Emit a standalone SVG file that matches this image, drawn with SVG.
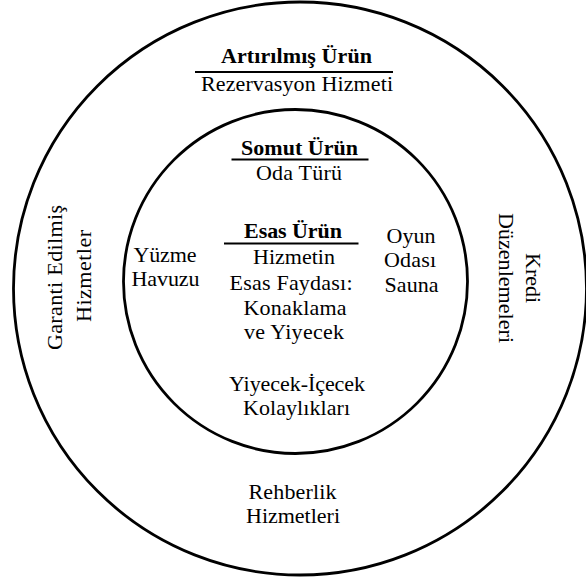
<svg xmlns="http://www.w3.org/2000/svg" width="586" height="582" viewBox="0 0 586 582">
<style>
text{font-family:"Liberation Serif","Times New Roman",serif;font-size:22px;fill:#000;text-anchor:middle}
.b{font-weight:bold}
.ring{fill:none;stroke:#000;stroke-width:2.8}
.ul{stroke:#000;stroke-width:2}
</style>
<rect width="586" height="582" fill="#fff"/>
<g id="outer-ring">
<circle class="ring" cx="300" cy="288.5" r="286.5"/>
<text class="b" x="296.5" y="63" textLength="151">Artırılmış Ürün</text>
<line class="ul" x1="195" y1="72" x2="393" y2="72"/>
<text x="297" y="91" textLength="192">Rezervasyon Hizmeti</text>
<text transform="translate(62,277.5) rotate(-90)" textLength="145">Garanti Edilmiş</text>
<text transform="translate(91,276) rotate(-90)" textLength="92">Hizmetler</text>
<text transform="translate(526,278) rotate(90)" textLength="50">Kredi</text>
<text transform="translate(499,278) rotate(90)" textLength="130">Düzenlemeleri</text>
<text x="292.5" y="499" textLength="88">Rehberlik</text>
<text x="293" y="523" textLength="94">Hizmetleri</text>
</g>
<g id="inner-ring">
<circle class="ring" cx="295.5" cy="281.5" r="172"/>
<text class="b" x="299.5" y="155" textLength="117">Somut Ürün</text>
<line class="ul" x1="231.5" y1="159.5" x2="368.5" y2="159.5"/>
<text x="299" y="179.5" textLength="86">Oda Türü</text>
<text x="165" y="262" textLength="63">Yüzme</text>
<text x="165.5" y="286" textLength="68">Havuzu</text>
<text x="411" y="243" textLength="49">Oyun</text>
<text x="410" y="267" textLength="52">Odası</text>
<text x="411.5" y="292" textLength="54">Sauna</text>
<text x="297" y="391" textLength="136">Yiyecek-İçecek</text>
<text x="296.5" y="415" textLength="107">Kolaylıkları</text>
</g>
<g id="core">
<text class="b" x="293" y="237.5" textLength="98">Esas Ürün</text>
<line class="ul" x1="224" y1="243.5" x2="358.5" y2="243.5"/>
<text x="294" y="263.5" textLength="82">Hizmetin</text>
<text x="291" y="289.5" textLength="123">Esas Faydası:</text>
<text x="295" y="314.5" textLength="103">Konaklama</text>
<text x="294" y="339" textLength="100">ve Yiyecek</text>
</g>
</svg>
